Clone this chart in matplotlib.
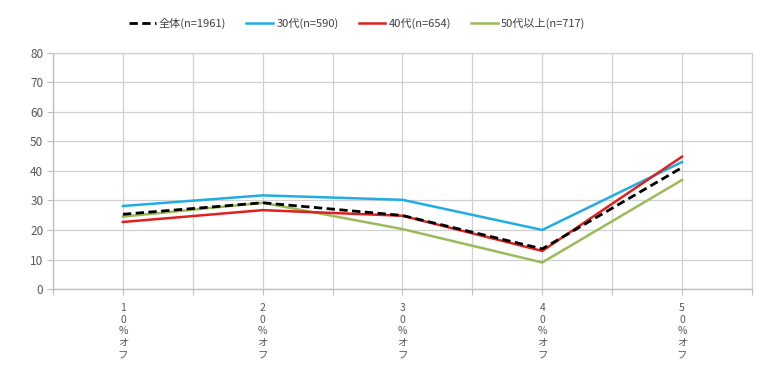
import matplotlib
matplotlib.use('Agg')
import matplotlib.pyplot as plt

plt.rcParams['font.family'] = ['Noto Sans CJK JP', 'DejaVu Sans']

# data
categories = ['10%オフ', '20%オフ', '30%オフ', '40%オフ', '50%オフ']
total_all = [25.3, 29.2, 24.9, 13.6, 41.1]
age_30s = [28.1, 31.7, 30.2, 20.0, 43.0]
age_40s = [22.7, 26.7, 24.8, 12.9, 44.8]
age_50plus = [24.5, 29.2, 20.3, 9.0, 36.9]

series_labels = ['全体(n=1961)', '30代(n=590)', '40代(n=654)', '50代以上(n=717)']

fig = plt.figure(figsize=(7.8, 3.73), dpi=100)
ax = fig.add_axes([0.068, 0.225, 0.896, 0.634])

# categories sit on every other slot of a 0..10 axis (as in the original sheet)
xs = [2 * i + 1 for i in range(len(categories))]

ax.plot(xs, total_all, color='black', lw=2.0, ls=(0, (3, 1.6)), label=series_labels[0], zorder=5)
ax.plot(xs, age_30s, color='#21ADE3', lw=1.8, label=series_labels[1], zorder=3)
ax.plot(xs, age_40s, color='#E0201E', lw=1.8, label=series_labels[2], zorder=4)
ax.plot(xs, age_50plus, color='#9BBB59', lw=1.8, label=series_labels[3], zorder=2)

ax.set_xlim(0, 10)
ax.set_ylim(0, 80)
ax.set_yticks(range(0, 81, 10))
ax.set_xticks(range(11))
xlabels = [''] * 11
for x, c in zip(xs, categories):
    xlabels[x] = '\n'.join(list(c))
ax.set_xticklabels(xlabels, fontsize=7.5, color='#595959', linespacing=1.2, va='top')

ax.grid(True, color='#D0D0D0', lw=0.9)
ax.set_axisbelow(True)
for side in ['top', 'right']:
    ax.spines[side].set_color('#D0D0D0')
    ax.spines[side].set_linewidth(0.9)
for side in ['left', 'bottom']:
    ax.spines[side].set_color('#BFBFBF')
    ax.spines[side].set_linewidth(1.0)
ax.tick_params(axis='y', length=4, color='#BFBFBF', labelsize=8.5, labelcolor='#595959', pad=3)
ax.tick_params(axis='x', length=4, color='#BFBFBF', pad=6)

fig.legend(loc='center', bbox_to_anchor=(0.458, 0.938), ncol=4, frameon=False,
           fontsize=8, handlelength=2.4, handletextpad=0.3, columnspacing=1.8,
           labelcolor='#404040')

fig.savefig('out.png', dpi=100, facecolor='white')
